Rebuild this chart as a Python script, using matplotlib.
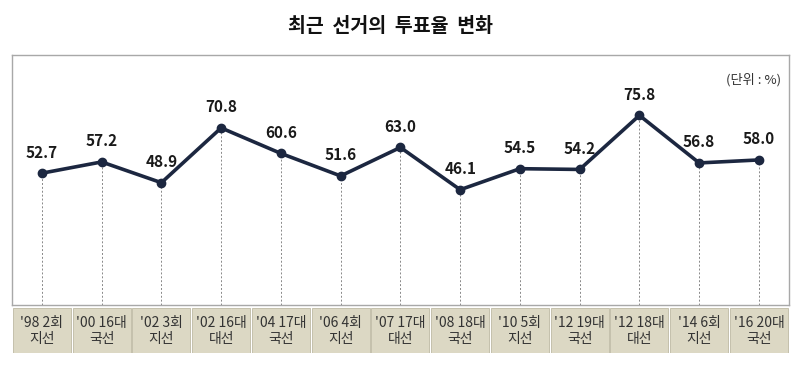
import matplotlib.pyplot as plt
import numpy as np

plt.rcParams['font.family'] = ['Noto Sans CJK KR', 'DejaVu Sans']

labels = ["'98 2회\n지선", "'00 16대\n국선", "'02 3회\n지선", "'02 16대\n대선",
          "'04 17대\n국선", "'06 4회\n지선", "'07 17대\n대선", "'08 18대\n국선",
          "'10 5회\n지선", "'12 19대\n국선", "'12 18대\n대선", "'14 6회\n지선",
          "'16 20대\n국선"]
turnout = [52.7, 57.2, 48.9, 70.8, 60.6, 51.6, 63.0, 46.1, 54.5, 54.2, 75.8, 56.8, 58.0]

x = np.arange(len(labels))
LINE = '#1c2740'

fig = plt.figure(figsize=(8, 3.68), dpi=100)
fig.text(0.488, 0.927, '최근  선거의  투표율  변화', ha='center', va='center',
         fontsize=14, fontweight='bold', color='#111111')

ax = fig.add_axes([0.015, 0.171, 0.971, 0.68])
ax.set_xlim(-0.5, len(labels) - 0.5)
ax.set_ylim(0, 100)
for xi, v in zip(x, turnout):
    ax.plot([xi, xi], [0, v], ls=(0, (2, 2)), lw=0.7, color='#888888', zorder=1)
ax.plot(x, turnout, color=LINE, lw=2.6, marker='o', ms=6, zorder=3)
for xi, v in zip(x, turnout):
    ax.text(xi, v + 5, f'{v:.1f}', ha='center', va='bottom', fontsize=11,
            fontweight='bold', color='#1a1a1a')
ax.text(0.99, 0.9, '(단위 : %)', transform=ax.transAxes, ha='right', va='center',
        fontsize=9.5, color='#333333')
ax.set_xticks([])
ax.set_yticks([])
for s in ax.spines.values():
    s.set_color('#a8a8a8')
    s.set_linewidth(1)

ax2 = fig.add_axes([0.015, 0.04, 0.971, 0.123])
ax2.set_xlim(-0.5, len(labels) - 0.5)
ax2.set_ylim(0, 1)
ax2.bar(x, [1] * len(labels), width=0.97, color='#dcd8c4', edgecolor='#c4c0ac', lw=0.7)
for xi, lab in zip(x, labels):
    ax2.text(xi, 0.5, lab, ha='center', va='center', fontsize=10,
             color='#333333', linespacing=1.2)
ax2.axis('off')

fig.savefig('out.png', dpi=100)
